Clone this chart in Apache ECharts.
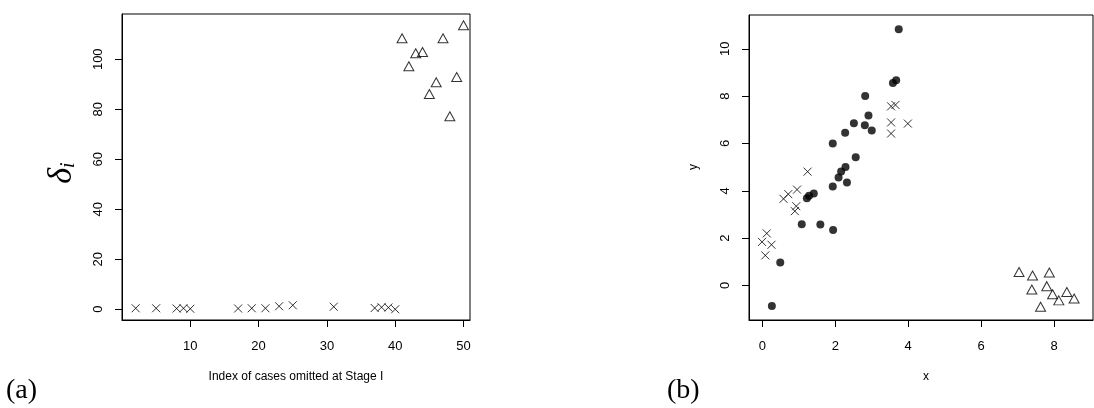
<!DOCTYPE html>
<html>
<head>
<meta charset="utf-8">
<script src="https://cdn.jsdelivr.net/npm/echarts@6/dist/echarts.min.js"></script>
<style>
  html, body { margin: 0; padding: 0; background: #fff; }
  #chart { width: 1094px; height: 408px; }
</style>
</head>
<body>
<div id="chart"></div>
<script>
// panel (a): delta_i against index of omitted case
const crossIdx = [2, 5, 8, 9, 10, 17, 19, 21, 23, 25, 31, 37, 38, 39, 40];
const crossDelta = [0.4, 0.4, 0.3, 0.4, 0.2, 0.3, 0.4, 0.4, 1.2, 1.6, 1.0, 0.5, 0.8, 0.7, 0.0];
const triIdx = [41, 42, 43, 44, 45, 46, 47, 48, 49, 50];
const triDelta = [108.4, 97.2, 102.4, 102.9, 86.1, 90.8, 108.4, 77.2, 92.9, 113.6];

// panel (b): x / y scatter, three groups
const circX = [3.74, 3.67, 3.58, 2.82, 2.91, 2.81, 3.0, 2.51, 2.27, 1.93, 2.56, 2.28, 2.16, 2.09,
  2.32, 1.93, 1.41, 1.28, 1.22, 1.08, 1.59, 1.94, 0.49, 0.26];
const circY = [10.83, 8.67, 8.56, 8.01, 7.18, 6.77, 6.55, 6.86, 6.45, 6.0, 5.42, 5.01, 4.82, 4.56,
  4.35, 4.18, 3.89, 3.79, 3.69, 2.59, 2.58, 2.34, 0.97, -0.87];
const crossX = [3.53, 3.65, 3.53, 3.99, 3.53, 1.24, 0.95, 0.71, 0.58, 0.93, 0.89, 0.12, -0.01, 0.25, 0.08];
const crossY = [7.57, 7.63, 6.89, 6.84, 6.42, 4.81, 4.05, 3.86, 3.66, 3.35, 3.14, 2.2, 1.84, 1.72, 1.27];
const triX = [7.04, 7.41, 7.87, 7.39, 7.80, 7.96, 8.13, 8.35, 8.55, 7.63];
const triY = [0.57, 0.42, 0.55, -0.17, -0.03, -0.37, -0.63, -0.28, -0.55, -0.9];

// tick labels
const aXTicks = [10, 20, 30, 40, 50];
const aYTicks = [0, 20, 40, 60, 80, 100];
const bXTicks = [0, 2, 4, 6, 8];
const bYTicks = [0, 2, 4, 6, 8, 10];

const zip = (xs, ys) => xs.map((v, i) => [v, ys[i]]);

const crossPath = "path://M0,0L10,10M10,0L0,10";
const labelFont = { fontFamily: "Liberation Sans", fontSize: 13, color: "#000" };

function xAxis(gridIndex, min, max, ticks) {
  return {
    gridIndex, type: "value", min, max,
    splitLine: { show: false },
    axisLine: { show: true, onZero: false, lineStyle: { color: "#000", width: 1 } },
    axisTick: { show: true, length: 7, customValues: ticks, lineStyle: { color: "#000" } },
    axisLabel: Object.assign({ margin: 20, customValues: ticks }, labelFont),
  };
}

function yAxis(gridIndex, min, max, ticks) {
  return {
    gridIndex, type: "value", min, max,
    splitLine: { show: false },
    axisLine: { show: true, onZero: false, lineStyle: { color: "#000", width: 1 } },
    axisTick: { show: true, length: 7, customValues: ticks, lineStyle: { color: "#000" } },
    axisLabel: Object.assign({ margin: 17, rotate: 90, customValues: ticks }, labelFont),
  };
}

const titleFont = "12px 'Liberation Sans'";

const chart = echarts.init(document.getElementById("chart"), null, { renderer: "canvas" });

chart.setOption({
  animation: false,
  backgroundColor: "#fff",
  grid: [
    { left: 122, top: 14, width: 348, height: 306, show: true, borderColor: "#000", borderWidth: 1, outerBoundsMode: "none" },
    { left: 749, top: 15, width: 344, height: 305, show: true, borderColor: "#000", borderWidth: 1, outerBoundsMode: "none" },
  ],
  xAxis: [
    xAxis(0, 0, 50.95, aXTicks),
    xAxis(1, -0.367, 9.068, bXTicks),
  ],
  yAxis: [
    yAxis(0, -4.3, 118.1, aYTicks),
    yAxis(1, -1.46, 11.43, bYTicks),
  ],
  graphic: [
    { type: "text", x: 296, y: 377, style: { text: "Index of cases omitted at Stage I", font: titleFont, fill: "#000", align: "center", verticalAlign: "middle" } },
    { type: "text", x: 926, y: 377, style: { text: "x", font: titleFont, fill: "#000", align: "center", verticalAlign: "middle" } },
    { type: "text", x: 694, y: 167, rotation: Math.PI / 2, style: { text: "y", font: titleFont, fill: "#000", align: "center", verticalAlign: "middle" } },
    {
      type: "text", x: 62, y: 173, rotation: Math.PI / 2,
      style: {
        text: "{d|δ}{s|i}", align: "center", verticalAlign: "middle",
        rich: {
          d: { fontFamily: "Liberation Serif", fontStyle: "italic", fontSize: 34, fill: "#000" },
          s: { fontFamily: "Liberation Serif", fontStyle: "italic", fontSize: 20, fill: "#000", padding: [14, 0, 0, 0] },
        },
      },
    },
    { type: "text", left: 6, top: 377, style: { text: "(a)", font: "28px 'Liberation Serif'", fill: "#000" } },
    { type: "text", left: 667, top: 377, style: { text: "(b)", font: "28px 'Liberation Serif'", fill: "#000" } },
  ],
  series: [
    {
      type: "scatter", xAxisIndex: 0, yAxisIndex: 0, data: zip(crossIdx, crossDelta),
      symbol: crossPath, symbolSize: 8,
      itemStyle: { color: "transparent", borderColor: "#000", borderWidth: 1 },
    },
    {
      type: "scatter", xAxisIndex: 0, yAxisIndex: 0, data: zip(triIdx, triDelta),
      symbol: "triangle", symbolSize: [10, 9],
      itemStyle: { color: "transparent", borderColor: "#000", borderWidth: 1 },
    },
    {
      type: "scatter", xAxisIndex: 1, yAxisIndex: 1, data: zip(circX, circY),
      symbol: "circle", symbolSize: 8,
      itemStyle: { color: "#000" },
    },
    {
      type: "scatter", xAxisIndex: 1, yAxisIndex: 1, data: zip(crossX, crossY),
      symbol: crossPath, symbolSize: 8,
      itemStyle: { color: "transparent", borderColor: "#000", borderWidth: 1 },
    },
    {
      type: "scatter", xAxisIndex: 1, yAxisIndex: 1, data: zip(triX, triY),
      symbol: "triangle", symbolSize: [10, 9],
      itemStyle: { color: "transparent", borderColor: "#000", borderWidth: 1 },
    },
  ],
});
</script>
</body>
</html>
